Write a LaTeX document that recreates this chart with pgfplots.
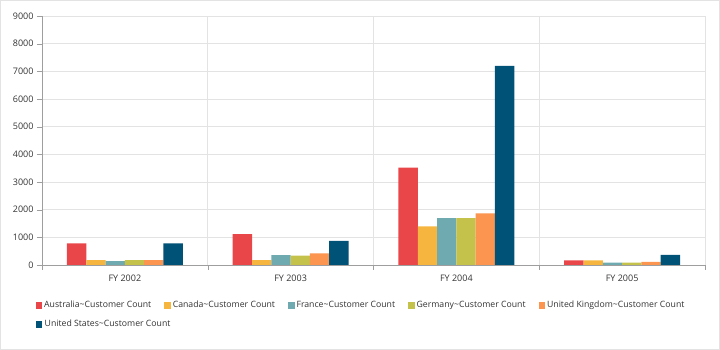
\documentclass[border=0pt]{standalone}
\usepackage{pgfplots}
\pgfplotsset{compat=1.18}
\usepackage{fontspec}
\setmainfont{Open Sans}
\definecolor{cAus}{HTML}{E94649}
\definecolor{cCan}{HTML}{F6B53F}
\definecolor{cFra}{HTML}{6FAAB0}
\definecolor{cGer}{HTML}{C4C24A}
\definecolor{cUK}{HTML}{FB954F}
\definecolor{cUS}{HTML}{005277}
\definecolor{gridc}{HTML}{E3E3E3}
\definecolor{axc}{HTML}{9E9E9E}
\definecolor{txt}{HTML}{333333}
\newcommand{\lt}[1]{\hspace*{2pt}#1\textasciitilde Customer Count\hspace*{13pt}}
\begin{document}
\begin{tikzpicture}
\draw[gridc, line width=1pt] (0.5pt,0.5pt) rectangle (719.5pt,349.5pt);
\begin{axis}[
  at={(42pt,85pt)}, anchor=south west,
  scale only axis, width=663pt, height=249pt,
  ybar=0pt, bar width=19.3pt,
  xmin=-0.5, xmax=3.5, ymin=0, ymax=9000,
  xtick={0,1,2,3},
  xticklabels={FY 2002,FY 2003,FY 2004,FY 2005},
  minor xtick={-0.5,0.5,1.5,2.5,3.5},
  major x tick style={draw=none},
  minor x tick style={draw=axc},
  xminorgrids=true,
  minor x grid style={gridc, line width=0.8pt},
  ytick={0,1000,...,9000},
  ymajorgrids=true,
  major y grid style={gridc, line width=0.8pt},
  y tick style={draw=axc},
  tick align=outside,
  major tick length=5pt, minor tick length=5pt,
  axis x line*=bottom, axis y line*=left,
  x axis line style={draw=axc, line width=0.8pt, -},
  y axis line style={draw=axc, line width=0.8pt, -},
  tick label style={font=\fontsize{9}{10}\selectfont, text=txt},
  /pgf/number format/assume math mode=true,
  /pgf/number format/1000 sep={},
  scaled y ticks=false,
  xticklabel style={yshift=-1pt},
  every axis plot/.append style={draw=none},
  legend columns=5,
  legend style={at={(0,0)}, anchor=north west, xshift=-6.5pt, yshift=-36pt,
    draw=none, fill=none, inner sep=0pt, row sep=11pt, column sep=0pt,
    font=\fontsize{8.7}{9}\selectfont, text=txt,
    nodes={inner sep=0pt}},
  legend cell align=left,
  legend image code/.code={\fill[#1] (0pt,-3.25pt) rectangle (6.5pt,3.25pt);},
]
\addplot[fill=cAus] coordinates {(0,780) (1,1120) (2,3520) (3,170)};
\addplot[fill=cCan] coordinates {(0,180) (1,180) (2,1400) (3,170)};
\addplot[fill=cFra] coordinates {(0,140) (1,360) (2,1690) (3,85)};
\addplot[fill=cGer] coordinates {(0,180) (1,340) (2,1690) (3,85)};
\addplot[fill=cUK] coordinates {(0,180) (1,420) (2,1870) (3,110)};
\addplot[fill=cUS] coordinates {(0,780) (1,870) (2,7200) (3,370)};
\legend{\lt{Australia},\lt{Canada},\lt{France},\lt{Germany},\lt{United Kingdom},\makebox[0pt][l]{\hspace*{2pt}United States\textasciitilde Customer Count}}
\end{axis}
\end{tikzpicture}
\end{document}
